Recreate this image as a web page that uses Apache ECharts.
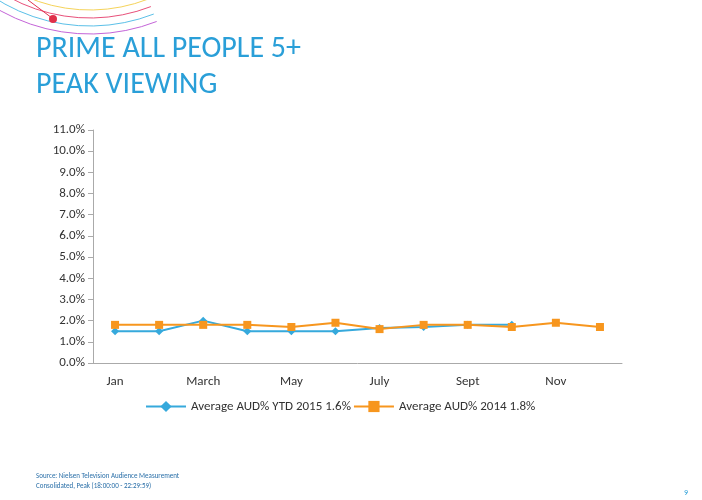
<!DOCTYPE html>
<html>
<head>
<meta charset="utf-8">
<script src="https://cdn.jsdelivr.net/npm/echarts@6/dist/echarts.min.js"></script>
<style>
  html, body { margin: 0; padding: 0; background: #fff; }
  #chart { width: 702px; height: 500px; }
</style>
</head>
<body>
<div id="chart"></div>
<script>
const months = ['Jan', 'Feb', 'March', 'April', 'May', 'June', 'July', 'Aug', 'Sept', 'Oct', 'Nov', 'Dec'];
const ytd2015 = [1.5, 1.5, 2.0, 1.5, 1.5, 1.5, 1.65, 1.7, 1.8, 1.8, null, null];
const avg2014 = [1.8, 1.8, 1.8, 1.8, 1.7, 1.9, 1.6, 1.8, 1.8, 1.7, 1.9, 1.7];

const chart = echarts.init(document.getElementById('chart'));
const font = 'Calibri, Carlito, "Open Sans", sans-serif';

// decorative arcs, top-left corner
const arcColors = ['#f5d35a', '#e8507a', '#5bc0e8', '#c464d8'];
const arcs = arcColors.map((c, i) => ({
  type: 'arc',
  shape: { cx: 90, cy: -150, r: 160 + i * 8, startAngle: 1.2, endAngle: 2.6 },
  style: { stroke: c, fill: null, lineWidth: 1 },
  silent: true,
}));

chart.setOption({
  backgroundColor: '#fff',
  animation: false,
  graphic: [
    ...arcs,
    { type: 'line', shape: { x1: 28, y1: 0, x2: 52, y2: 18 }, style: { stroke: '#e0304a', lineWidth: 1 } },
    { type: 'circle', shape: { cx: 53, cy: 19, r: 4 }, style: { fill: '#e0304a' } },
    { type: 'text', left: 36, top: 31, style: { text: 'PRIME ALL PEOPLE 5+\nPEAK VIEWING', fill: '#2a9fd8', font: '30px ' + font, lineHeight: 36 } },
    { type: 'text', left: 36, top: 471, style: { text: 'Source: Nielsen Television Audience Measurement\nConsolidated, Peak (18:00:00 - 22:29:59)', fill: '#2a6fa8', font: '7px ' + font, lineHeight: 10 } },
    { type: 'text', right: 14, top: 489, style: { text: '9', fill: '#2a9fd8', font: '8px ' + font } },
  ],
  legend: {
    bottom: 82,
    left: 140,
    itemGap: 2,
    itemWidth: 40,
    textStyle: { color: '#333', fontSize: 13, fontFamily: font },
    data: ['Average AUD% YTD 2015 1.6%', 'Average AUD% 2014 1.8%'],
  },
  grid: { left: 93, right: 80, top: 130, bottom: 137 },
  xAxis: {
    type: 'category',
    data: months,
    axisLine: { lineStyle: { color: '#aaa' } },
    axisTick: { lineStyle: { color: '#aaa' }, length: 6 },
    axisLabel: { color: '#333', fontSize: 13, fontFamily: font, margin: 12 },
  },
  yAxis: {
    type: 'value',
    min: 0, max: 11, interval: 1,
    axisLine: { show: true, lineStyle: { color: '#aaa' } },
    axisTick: { show: true, lineStyle: { color: '#aaa' }, length: 5 },
    axisLabel: { color: '#333', fontSize: 13, fontFamily: font, formatter: v => v.toFixed(1) + '%' },
    splitLine: { show: false },
  },
  series: [
    {
      name: 'Average AUD% YTD 2015 1.6%',
      type: 'line',
      data: ytd2015,
      color: '#36a9dc',
      lineStyle: { width: 2 },
      symbol: 'diamond',
      symbolSize: 8,
    },
    {
      name: 'Average AUD% 2014 1.8%',
      type: 'line',
      data: avg2014,
      color: '#f7961e',
      lineStyle: { width: 2 },
      symbol: 'rect',
      symbolSize: 8,
    },
  ],
});
</script>
</body>
</html>
